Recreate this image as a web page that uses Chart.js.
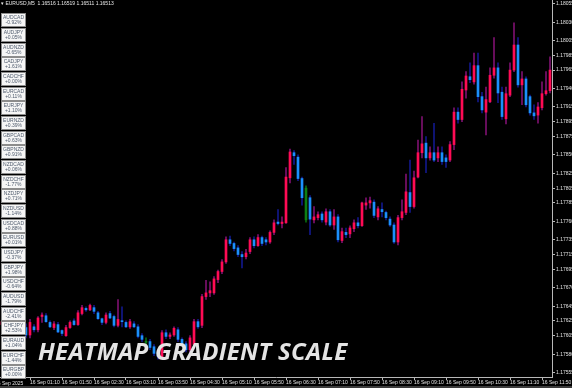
<!DOCTYPE html>
<html>
<head>
<meta charset="utf-8">
<script src="https://cdn.jsdelivr.net/npm/chart.js@4.4.1/dist/chart.umd.min.js"></script>
<style>
  html, body { margin: 0; padding: 0; background: #000; }
  #wrap { position: relative; width: 572px; height: 388px; overflow: hidden; background: #000; }
  #chart { position: absolute; left: 0; top: 0; }
  .hdr { position: absolute; left: 1px; top: 0; font: 5px "Liberation Sans", Arial, sans-serif; line-height: 6px; color: #e8e8e8; white-space: pre; }
  .date0 { position: absolute; left: -5px; top: 380px; font: 5px "Liberation Sans", Arial, sans-serif; line-height: 6px; color: #e0e0e0; white-space: pre; }
  .pair { position: absolute; left: 1px; width: 25px; height: 14px; box-sizing: border-box; background: #f6f6f6; border: 1px solid #8c8c8c;
          text-align: center; font: 5px "Liberation Sans", Arial, sans-serif; line-height: 5.6px; color: #4e5a6c; padding-top: 0.5px; }
  .title { position: absolute; left: 38px; top: 339px; font: italic 700 24px "Open Sans", sans-serif; line-height: 24px; letter-spacing: 0.3px; color: #e4e4e4; white-space: pre; }
  .band { position: absolute; left: 0; top: 386px; width: 572px; height: 2px; background: #3c3c3c; }
</style>
</head>
<body>
<div id="wrap">
  <canvas id="chart" width="572" height="388"></canvas>
  <div class="hdr">▾ EURUSD,M5  1.16516 1.16519 1.16511 1.16513</div>
  <div id="panel"></div>
  <div class="date0">16 Sep 2025</div>
  <div class="title">HEATMAP GRADIENT SCALE</div>
  <div class="band"></div>
</div>
<script>
// Velas M5 EURUSD (una por barra, desde 00:35)
const opens = [
  1.17620, 1.17624, 1.17619, 1.17615, 1.17621, 1.17625, 1.17616, 1.17606, 1.17617, 1.17613,
  1.17631, 1.17632, 1.17623, 1.17616, 1.17620, 1.17612, 1.17605, 1.17616, 1.17625, 1.17620,
  1.17635, 1.17642, 1.17640, 1.17643, 1.17636, 1.17628, 1.17623, 1.17635, 1.17631, 1.17619,
  1.17625, 1.17623, 1.17617, 1.17621, 1.17617, 1.17605, 1.17596, 1.17597, 1.17590, 1.17582,
  1.17575, 1.17609, 1.17604, 1.17606, 1.17613, 1.17600, 1.17594, 1.17586, 1.17593, 1.17624,
  1.17619, 1.17658, 1.17663, 1.17663, 1.17681, 1.17692, 1.17705, 1.17735, 1.17730, 1.17724,
  1.17715, 1.17712, 1.17719, 1.17735, 1.17727, 1.17738, 1.17735, 1.17732, 1.17745, 1.17759,
  1.17757, 1.17758, 1.17819, 1.17853, 1.17847, 1.17818, 1.17762, 1.17792, 1.17762, 1.17765,
  1.17770, 1.17759, 1.17773, 1.17755, 1.17766, 1.17734, 1.17745, 1.17743, 1.17750, 1.17758,
  1.17754, 1.17782, 1.17785, 1.17786, 1.17766, 1.17776, 1.17772, 1.17763, 1.17755, 1.17732,
  1.17765, 1.17772, 1.17799, 1.17780, 1.17820, 1.17853, 1.17866, 1.17846, 1.17853, 1.17846,
  1.17853, 1.17846, 1.17843, 1.17864, 1.17908, 1.17898, 1.17938, 1.17956, 1.17949, 1.17971,
  1.17929, 1.17908, 1.17922, 1.17958, 1.17968, 1.17935, 1.17899, 1.17931, 1.17965, 1.17999,
  1.17945, 1.17953, 1.17929, 1.17907, 1.17904, 1.17914, 1.17933, 1.17937
];
const highs = [
  1.17627, 1.17629, 1.17624, 1.17624, 1.17628, 1.17629, 1.17621, 1.17627, 1.17620, 1.17631,
  1.17636, 1.17635, 1.17625, 1.17624, 1.17623, 1.17613, 1.17619, 1.17625, 1.17628, 1.17639,
  1.17646, 1.17644, 1.17648, 1.17646, 1.17638, 1.17629, 1.17636, 1.17638, 1.17633, 1.17654,
  1.17644, 1.17625, 1.17627, 1.17624, 1.17620, 1.17608, 1.17602, 1.17600, 1.17593, 1.17586,
  1.17612, 1.17613, 1.17609, 1.17617, 1.17616, 1.17602, 1.17597, 1.17605, 1.17627, 1.17627,
  1.17661, 1.17680, 1.17678, 1.17685, 1.17694, 1.17708, 1.17739, 1.17740, 1.17732, 1.17727,
  1.17719, 1.17722, 1.17738, 1.17739, 1.17742, 1.17740, 1.17738, 1.17747, 1.17762, 1.17776,
  1.17766, 1.17833, 1.17858, 1.17856, 1.17850, 1.17820, 1.17808, 1.17795, 1.17780, 1.17773,
  1.17773, 1.17777, 1.17776, 1.17776, 1.17769, 1.17751, 1.17751, 1.17754, 1.17762, 1.17765,
  1.17786, 1.17792, 1.17793, 1.17789, 1.17780, 1.17785, 1.17774, 1.17766, 1.17758, 1.17768,
  1.17789, 1.17824, 1.17843, 1.17828, 1.17870, 1.17902, 1.17875, 1.17861, 1.17893, 1.17861,
  1.17861, 1.17850, 1.17868, 1.17914, 1.17914, 1.17949, 1.17963, 1.17975, 1.17988, 1.17988,
  1.17935, 1.17942, 1.17968, 1.18009, 1.17975, 1.17942, 1.17942, 1.17975, 1.18029, 1.18009,
  1.17963, 1.17956, 1.17931, 1.17918, 1.17921, 1.17949, 1.17963, 1.17983
];
const lows = [
  1.17613, 1.17617, 1.17610, 1.17612, 1.17616, 1.17613, 1.17602, 1.17602, 1.17610, 1.17610,
  1.17623, 1.17623, 1.17616, 1.17613, 1.17609, 1.17605, 1.17604, 1.17615, 1.17619, 1.17619,
  1.17633, 1.17638, 1.17639, 1.17635, 1.17627, 1.17620, 1.17621, 1.17628, 1.17617, 1.17617,
  1.17617, 1.17616, 1.17615, 1.17616, 1.17602, 1.17597, 1.17586, 1.17586, 1.17578, 1.17573,
  1.17573, 1.17601, 1.17601, 1.17604, 1.17597, 1.17592, 1.17583, 1.17583, 1.17592, 1.17615,
  1.17616, 1.17654, 1.17658, 1.17661, 1.17677, 1.17689, 1.17703, 1.17727, 1.17720, 1.17712,
  1.17697, 1.17709, 1.17716, 1.17724, 1.17726, 1.17727, 1.17728, 1.17730, 1.17742, 1.17755,
  1.17751, 1.17757, 1.17812, 1.17837, 1.17815, 1.17782, 1.17759, 1.17742, 1.17758, 1.17762,
  1.17759, 1.17755, 1.17753, 1.17749, 1.17732, 1.17731, 1.17738, 1.17738, 1.17746, 1.17751,
  1.17753, 1.17776, 1.17778, 1.17765, 1.17762, 1.17766, 1.17762, 1.17753, 1.17730, 1.17728,
  1.17762, 1.17769, 1.17772, 1.17778, 1.17819, 1.17846, 1.17826, 1.17843, 1.17841, 1.17841,
  1.17837, 1.17833, 1.17841, 1.17857, 1.17893, 1.17895, 1.17927, 1.17948, 1.17946, 1.17922,
  1.17907, 1.17877, 1.17921, 1.17954, 1.17921, 1.17898, 1.17892, 1.17929, 1.17963, 1.17942,
  1.17918, 1.17915, 1.17904, 1.17898, 1.17893, 1.17911, 1.17931, 1.17934
];
const closes = [
  1.17624, 1.17619, 1.17615, 1.17621, 1.17625, 1.17616, 1.17606, 1.17623, 1.17613, 1.17629,
  1.17633, 1.17624, 1.17617, 1.17621, 1.17610, 1.17608, 1.17616, 1.17623, 1.17620, 1.17636,
  1.17643, 1.17640, 1.17646, 1.17638, 1.17628, 1.17623, 1.17633, 1.17629, 1.17619, 1.17627,
  1.17624, 1.17617, 1.17624, 1.17617, 1.17604, 1.17600, 1.17597, 1.17589, 1.17581, 1.17577,
  1.17609, 1.17604, 1.17606, 1.17615, 1.17600, 1.17594, 1.17586, 1.17602, 1.17624, 1.17617,
  1.17658, 1.17663, 1.17666, 1.17682, 1.17692, 1.17705, 1.17735, 1.17730, 1.17723, 1.17715,
  1.17712, 1.17717, 1.17735, 1.17727, 1.17738, 1.17730, 1.17732, 1.17745, 1.17758, 1.17757,
  1.17759, 1.17820, 1.17854, 1.17849, 1.17818, 1.17792, 1.17805, 1.17763, 1.17766, 1.17769,
  1.17762, 1.17773, 1.17755, 1.17766, 1.17735, 1.17746, 1.17742, 1.17751, 1.17758, 1.17754,
  1.17785, 1.17785, 1.17788, 1.17768, 1.17777, 1.17773, 1.17765, 1.17755, 1.17732, 1.17765,
  1.17773, 1.17800, 1.17780, 1.17819, 1.17853, 1.17865, 1.17846, 1.17853, 1.17843, 1.17853,
  1.17841, 1.17841, 1.17864, 1.17908, 1.17898, 1.17939, 1.17957, 1.17952, 1.17971, 1.17929,
  1.17911, 1.17925, 1.17958, 1.17968, 1.17934, 1.17902, 1.17933, 1.17965, 1.17999, 1.17945,
  1.17953, 1.17918, 1.17907, 1.17903, 1.17915, 1.17933, 1.17937, 1.17965
];
// velas pintadas en verde por el gradiente
const greenBars = [36, 76];

// Etiquetas de los ejes
const yTickLabels = ['1.18055', '1.18030', '1.18005', '1.17985', '1.17965', '1.17940', '1.17915', '1.17895',
  '1.17875', '1.17850', '1.17825', '1.17805', '1.17785', '1.17760', '1.17735', '1.17715', '1.17695',
  '1.17670', '1.17645', '1.17625', '1.17605', '1.17580', '1.17555'];
const xTickLabels = ['16 Sep 01:10', '16 Sep 01:50', '16 Sep 02:30', '16 Sep 03:10', '16 Sep 03:50', '16 Sep 04:30',
  '16 Sep 05:10', '16 Sep 05:50', '16 Sep 06:30', '16 Sep 07:10', '16 Sep 07:50', '16 Sep 08:30', '16 Sep 09:10',
  '16 Sep 09:50', '16 Sep 10:30', '16 Sep 11:10', '16 Sep 11:50'];

// Panel de pares
const pairs = ['AUDCAD', 'AUDJPY', 'AUDNZD', 'CADJPY', 'CADCHF', 'EURCAD', 'EURJPY', 'EURNZD', 'GBPCAD', 'GBPNZD',
  'NZDCAD', 'NZDCHF', 'NZDJPY', 'NZDUSD', 'USDCAD', 'EURUSD', 'USDJPY', 'GBPJPY', 'USDCHF', 'AUDUSD',
  'AUDCHF', 'CHFJPY', 'EURAUD', 'EURCHF', 'EURGBP'];
const changes = ['-0.92%', '+0.05%', '-0.65%', '+1.61%', '+0.00%', '+0.11%', '+1.10%', '+0.39%', '+0.63%', '+0.91%',
  '+0.06%', '-1.77%', '+0.71%', '-1.14%', '+0.88%', '+0.01%', '-0.37%', '+1.98%', '-0.64%', '-1.79%',
  '-2.41%', '+2.53%', '+1.04%', '-1.44%', '+0.00%'];

// Hora de cada barra (M5 desde 00:35)
const times = opens.map((_, i) => {
  const m = 35 + 5 * i;
  return '16 Sep ' + String(Math.floor(m / 60)).padStart(2, '0') + ':' + String(m % 60).padStart(2, '0');
});

const panel = document.getElementById('panel');
pairs.forEach((p, i) => {
  const box = document.createElement('div');
  box.className = 'pair';
  box.style.top = Math.round(13.3 + i * 14.67) + 'px';
  box.innerHTML = p + '<br>' + changes[i];
  panel.appendChild(box);
});

function isBull(i) { return closes[i] >= opens[i]; }
function bodyColor(ctx) {
  const i = ctx.dataIndex;
  if (greenBars.includes(i)) return '#0d7f14';
  return isBull(i) ? '#ff0b55' : '#1b8ffc';
}
function wickColor(ctx) {
  const i = ctx.dataIndex;
  if (greenBars.includes(i)) return '#0a6a10';
  return isBull(i) ? '#7c106e' : '#12188a';
}

const axisColor = '#b8b8b8';
const tickFont = { family: 'Liberation Sans', size: 5 };

new Chart(document.getElementById('chart'), {
  type: 'bar',
  data: {
    labels: times,
    datasets: [
      { label: 'body', data: opens.map((o, i) => [o, closes[i]]), backgroundColor: bodyColor,
        barThickness: 2, minBarLength: 1, grouped: false, order: 0 },
      { label: 'wick', data: lows.map((l, i) => [l, highs[i]]), backgroundColor: wickColor,
        barThickness: 1, grouped: false, order: 1 }
    ]
  },
  options: {
    responsive: false,
    animation: false,
    layout: { padding: 0 },
    plugins: { legend: { display: false }, tooltip: { enabled: false } },
    scales: {
      x: {
        offset: true,
        grid: { drawOnChartArea: false, drawTicks: true, tickLength: 3, color: axisColor, offset: false },
        border: { color: axisColor },
        ticks: { autoSkip: false, maxRotation: 0, minRotation: 0, align: 'start', padding: 0, color: '#e0e0e0', font: tickFont,
          callback(v) { return this.getLabelForValue(v); } },
        afterBuildTicks(s) { s.ticks = s.ticks.filter(t => xTickLabels.includes(times[t.value])); },
        afterFit(s) { s.height = 11; s.paddingLeft = 0; s.paddingRight = 0; }
      },
      y: {
        position: 'right',
        min: 1.17549,
        max: 1.18060,
        grid: { drawOnChartArea: false, tickLength: 3, color: axisColor },
        border: { color: axisColor },
        ticks: { color: '#e0e0e0', font: tickFont, padding: 1, callback: v => v.toFixed(5) },
        afterBuildTicks(s) { s.ticks = yTickLabels.map(t => ({ value: parseFloat(t) })); },
        afterFit(s) { s.width = 20; s.paddingTop = 0; s.paddingBottom = 0; }
      }
    }
  }
});
</script>
</body>
</html>
